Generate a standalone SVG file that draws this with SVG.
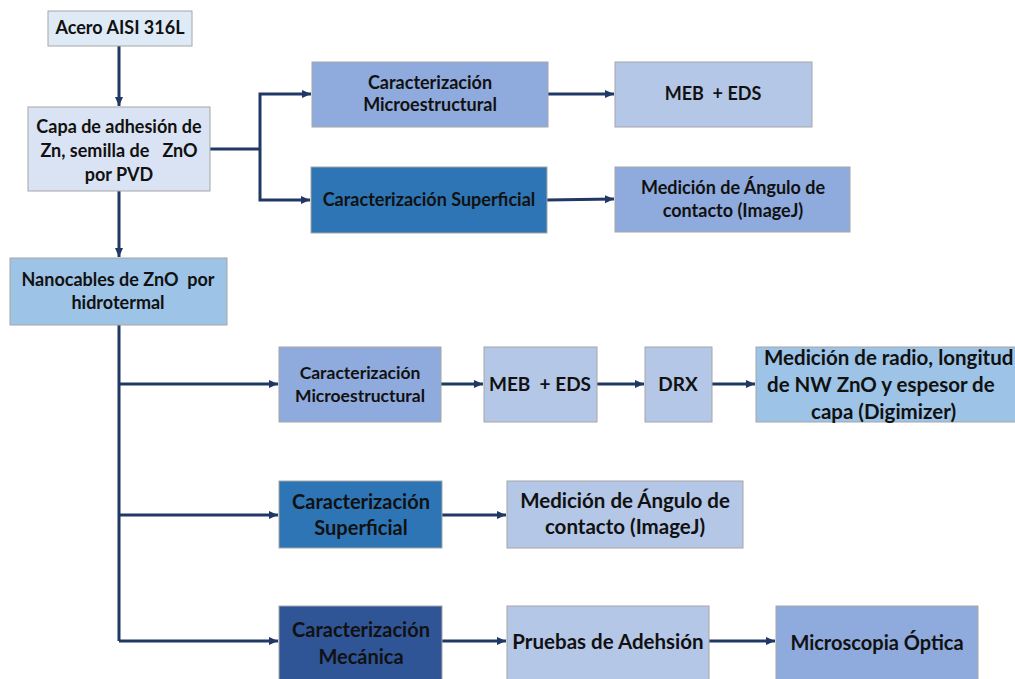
<svg xmlns="http://www.w3.org/2000/svg" width="1015" height="679" viewBox="0 0 1015 679">
<defs>
<marker id="ah" markerUnits="userSpaceOnUse" markerWidth="10" markerHeight="10" refX="9" refY="5" orient="auto">
<path d="M0,1 L9,5 L0,9 z" fill="#1f3864"/>
</marker>
<style>
.b{stroke:#a6a6a6;stroke-width:1}
.t{font-family:Lato,"Open Sans","Liberation Sans",sans-serif;font-weight:bold;fill:#111;text-anchor:middle;white-space:pre}
.c{fill:none;stroke:#1f3864;stroke-width:3}
.a{marker-end:url(#ah)}
</style>
</defs>
<rect width="1015" height="679" fill="#ffffff"/>
<g id="connectors">
<path class="c a" d="M119,46 V106"/>
<path class="c a" d="M119,191 V257"/>
<path class="c" d="M210,149 H260"/>
<path class="c a" d="M260,149 V94 H311"/>
<path class="c a" d="M260,149 V200 H310"/>
<path class="c a" d="M548,94 H614"/>
<path class="c a" d="M547,200 L614,199"/>
<path class="c" d="M119,325 V641"/>
<path class="c a" d="M119,384 H278"/>
<path class="c a" d="M119,515 H278"/>
<path class="c a" d="M119,641 H278"/>
<path class="c a" d="M441,384 H483"/>
<path class="c a" d="M597,384 H644"/>
<path class="c a" d="M712,384 H755"/>
<path class="c a" d="M442,515 H506"/>
<path class="c a" d="M442,641 H506"/>
<path class="c a" d="M709,641 H775"/>
</g>
<g id="n1"><rect class="b" x="48" y="11" width="144" height="35" fill="#deebf7"/><text class="t" x="120" y="34" font-size="18">Acero AISI 316L</text></g>
<g id="n2"><rect class="b" x="28" y="107" width="182" height="84" fill="#dae3f3"/><text class="t" x="119" y="133" font-size="18" xml:space="preserve"><tspan x="119">Capa de adhesión de</tspan><tspan x="119" dy="24">Zn, semilla de   ZnO</tspan><tspan x="119" dy="24">por PVD</tspan></text></g>
<g id="n3"><rect class="b" x="10" y="258" width="217" height="67" fill="#9dc3e6"/><text class="t" x="118" y="286" font-size="18" xml:space="preserve"><tspan x="118">Nanocables de ZnO  por</tspan><tspan x="118" dy="23">hidrotermal</tspan></text></g>
<g id="n4"><rect class="b" x="312" y="62" width="236" height="65" fill="#8faadc"/><text class="t" x="430" y="89" font-size="18"><tspan x="430">Caracterización</tspan><tspan x="430" dy="22">Microestructural</tspan></text></g>
<g id="n5"><rect class="b" x="615" y="62" width="197" height="65" fill="#b4c7e7"/><text class="t" x="713" y="100" font-size="18" xml:space="preserve">MEB  + EDS</text></g>
<g id="n6"><rect class="b" x="311" y="167" width="236" height="66" fill="#2e75b6"/><text class="t" x="429" y="206" font-size="18">Caracterización Superficial</text></g>
<g id="n7"><rect class="b" x="615" y="167" width="235" height="65" fill="#8faadc"/><text class="t" x="733" y="194" font-size="18"><tspan x="733">Medición de Ángulo de</tspan><tspan x="733" dy="23">contacto (ImageJ)</tspan></text></g>
<g id="n8"><rect class="b" x="279" y="347" width="162" height="75" fill="#8faadc"/><text class="t" x="360" y="379" font-size="17.5"><tspan x="360">Caracterización</tspan><tspan x="360" dy="23">Microestructural</tspan></text></g>
<g id="n9"><rect class="b" x="484" y="347" width="113" height="75" fill="#b4c7e7"/><text class="t" x="540" y="391" font-size="19" xml:space="preserve">MEB  + EDS</text></g>
<g id="n10"><rect class="b" x="645" y="347" width="67" height="75" fill="#b4c7e7"/><text class="t" x="678" y="391" font-size="19">DRX</text></g>
<g id="n11"><rect class="b" x="756" y="347" width="270" height="75" fill="#9dc3e6"/><text class="t" font-size="20.5" style="text-anchor:start"><tspan x="764" y="365">Medición de radio, longitud</tspan><tspan x="767" y="392">de NW ZnO y espesor de</tspan><tspan x="811" y="419">capa (Digimizer)</tspan></text></g>
<g id="n12"><rect class="b" x="279" y="481" width="163" height="67" fill="#2e75b6"/><text class="t" x="361" y="509" font-size="20"><tspan x="361">Caracterización</tspan><tspan x="361" dy="26">Superficial</tspan></text></g>
<g id="n13"><rect class="b" x="507" y="481" width="236" height="67" fill="#b4c7e7"/><text class="t" x="625" y="508" font-size="20.5"><tspan x="625">Medición de Ángulo de</tspan><tspan x="625" dy="26">contacto (ImageJ)</tspan></text></g>
<g id="n14"><rect class="b" x="279" y="606" width="163" height="80" fill="#2f5597"/><text class="t" x="361" y="637" font-size="20"><tspan x="361">Caracterización</tspan><tspan x="361" dy="27">Mecánica</tspan></text></g>
<g id="n15"><rect class="b" x="507" y="606" width="202" height="80" fill="#b4c7e7"/><text class="t" x="608" y="649" font-size="20.5">Pruebas de Adehsión</text></g>
<g id="n16"><rect class="b" x="776" y="606" width="202" height="80" fill="#8faadc"/><text class="t" x="877" y="650" font-size="20">Microscopia Óptica</text></g>
</svg>
